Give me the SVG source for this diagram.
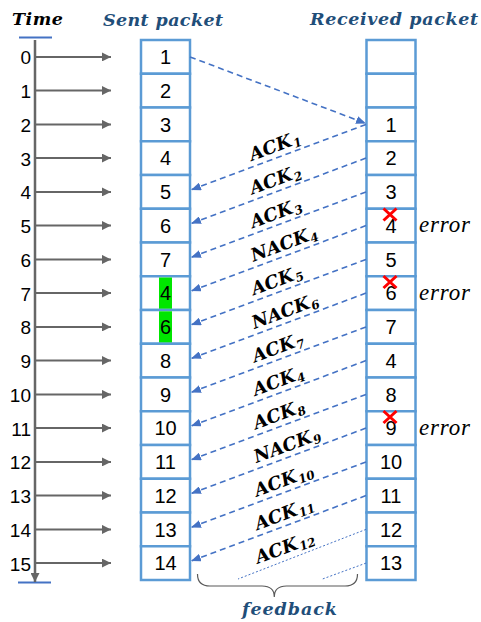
<svg xmlns="http://www.w3.org/2000/svg" width="481" height="622" viewBox="0 0 481 622">
  <style>
    .cell { fill: #ffffff; stroke: #5B9BD5; stroke-width: 2.5; }
    .num { font-family: "Liberation Sans", Arial, sans-serif; font-size: 20px; fill: #000; text-anchor: middle; }
    .tlabel { font-family: "Liberation Sans", Arial, sans-serif; font-size: 19px; fill: #000; text-anchor: end; }
    .head { font-family: "DejaVu Serif", "Liberation Serif", serif; font-weight: bold; font-style: italic; font-size: 17.5px; fill: #1F4E79; }
    .ack { font-family: "DejaVu Serif", "Liberation Serif", serif; font-weight: bold; font-style: italic; font-size: 18px; fill: #000; }
    .sub { font-size: 12px; }
    .err { font-family: "Liberation Serif", "DejaVu Serif", serif; font-style: italic; font-size: 23px; fill: #000; }
    .tick { stroke: #666666; stroke-width: 2; fill: none; }
    .link { stroke: #4472C4; stroke-width: 1.6; stroke-dasharray: 6 4; fill: none; }
    .thin { stroke: #4472C4; stroke-width: 1; stroke-dasharray: 2 2; fill: none; }
    .bar { stroke: #4472C4; stroke-width: 2.2; }
    .cross { stroke: #FF0000; stroke-width: 3; stroke-linecap: butt; }
  </style>
  <defs>
    <marker id="grayHead" markerUnits="userSpaceOnUse" markerWidth="9" markerHeight="9" refX="9" refY="4.5" orient="auto">
      <path d="M0,0 L9,4.5 L0,9 z" fill="#666666"/>
    </marker>
    <marker id="blueHead" markerUnits="userSpaceOnUse" markerWidth="10" markerHeight="8" refX="10" refY="4" orient="auto">
      <path d="M0,0 L10,4 L0,8 z" fill="#4472C4"/>
    </marker>
  </defs>

  <!-- headers -->
  <g id="headers">
    <text class="head" x="12" y="25" style="fill:#000" textLength="51" lengthAdjust="spacing">Time</text>
    <text class="head" x="103" y="26" textLength="120" lengthAdjust="spacing">Sent packet</text>
    <text class="head" x="310" y="25" textLength="168" lengthAdjust="spacing">Received packet</text>
  </g>

  <!-- time axis with step arrows -->
  <g id="time-axis">
    <line class="bar" x1="19" y1="37.5" x2="52" y2="37.5"/>
    <line class="bar" x1="18" y1="582.5" x2="51" y2="582.5"/>
    <line x1="35" y1="40" x2="35" y2="582" stroke="#666666" stroke-width="2.5" marker-end="url(#grayHead)"/>
    <g marker-end="url(#grayHead)">
      <line class="tick" x1="35" y1="56.9" x2="111" y2="56.9"/>
      <line class="tick" x1="35" y1="90.6" x2="111" y2="90.6"/>
      <line class="tick" x1="35" y1="124.4" x2="111" y2="124.4"/>
      <line class="tick" x1="35" y1="158.1" x2="111" y2="158.1"/>
      <line class="tick" x1="35" y1="191.9" x2="111" y2="191.9"/>
      <line class="tick" x1="35" y1="225.6" x2="111" y2="225.6"/>
      <line class="tick" x1="35" y1="259.4" x2="111" y2="259.4"/>
      <line class="tick" x1="35" y1="293.1" x2="111" y2="293.1"/>
      <line class="tick" x1="35" y1="326.9" x2="111" y2="326.9"/>
      <line class="tick" x1="35" y1="360.6" x2="111" y2="360.6"/>
      <line class="tick" x1="35" y1="394.4" x2="111" y2="394.4"/>
      <line class="tick" x1="35" y1="428.1" x2="111" y2="428.1"/>
      <line class="tick" x1="35" y1="461.9" x2="111" y2="461.9"/>
      <line class="tick" x1="35" y1="495.6" x2="111" y2="495.6"/>
      <line class="tick" x1="35" y1="529.4" x2="111" y2="529.4"/>
      <line class="tick" x1="35" y1="563.1" x2="111" y2="563.1"/>
    </g>
    <text class="tlabel" x="31" y="64.4">0</text>
    <text class="tlabel" x="31" y="98.1">1</text>
    <text class="tlabel" x="31" y="131.9">2</text>
    <text class="tlabel" x="31" y="165.6">3</text>
    <text class="tlabel" x="31" y="199.4">4</text>
    <text class="tlabel" x="31" y="233.1">5</text>
    <text class="tlabel" x="31" y="266.9">6</text>
    <text class="tlabel" x="31" y="300.6">7</text>
    <text class="tlabel" x="31" y="334.4">8</text>
    <text class="tlabel" x="31" y="368.1">9</text>
    <text class="tlabel" x="31" y="401.9">10</text>
    <text class="tlabel" x="31" y="435.6">11</text>
    <text class="tlabel" x="31" y="469.4">12</text>
    <text class="tlabel" x="31" y="503.1">13</text>
    <text class="tlabel" x="31" y="536.9">14</text>
    <text class="tlabel" x="31" y="570.6">15</text>
  </g>

  <!-- sender column -->
  <g id="sent-column">
    <g id="sent-0"><rect class="cell" x="141" y="40" width="49" height="33.75"/><text class="num" x="165.5" y="64.2">1</text></g>
    <g id="sent-1"><rect class="cell" x="141" y="73.75" width="49" height="33.75"/><text class="num" x="165.5" y="97.9">2</text></g>
    <g id="sent-2"><rect class="cell" x="141" y="107.5" width="49" height="33.75"/><text class="num" x="165.5" y="131.7">3</text></g>
    <g id="sent-3"><rect class="cell" x="141" y="141.25" width="49" height="33.75"/><text class="num" x="165.5" y="165.4">4</text></g>
    <g id="sent-4"><rect class="cell" x="141" y="175" width="49" height="33.75"/><text class="num" x="165.5" y="199.2">5</text></g>
    <g id="sent-5"><rect class="cell" x="141" y="208.75" width="49" height="33.75"/><text class="num" x="165.5" y="232.9">6</text></g>
    <g id="sent-6"><rect class="cell" x="141" y="242.5" width="49" height="33.75"/><text class="num" x="165.5" y="266.7">7</text></g>
    <g id="sent-7"><rect class="cell" x="141" y="276.25" width="49" height="33.75"/><rect x="159" y="277.5" width="13" height="31.3" fill="#00E600"/><text class="num" x="165.5" y="300.4">4</text></g>
    <g id="sent-8"><rect class="cell" x="141" y="310" width="49" height="33.75"/><rect x="159" y="311.3" width="13" height="31.3" fill="#00E600"/><text class="num" x="165.5" y="334.2">6</text></g>
    <g id="sent-9"><rect class="cell" x="141" y="343.75" width="49" height="33.75"/><text class="num" x="165.5" y="367.9">8</text></g>
    <g id="sent-10"><rect class="cell" x="141" y="377.5" width="49" height="33.75"/><text class="num" x="165.5" y="401.7">9</text></g>
    <g id="sent-11"><rect class="cell" x="141" y="411.25" width="49" height="33.75"/><text class="num" x="165.5" y="435.4">10</text></g>
    <g id="sent-12"><rect class="cell" x="141" y="445" width="49" height="33.75"/><text class="num" x="165.5" y="469.2">11</text></g>
    <g id="sent-13"><rect class="cell" x="141" y="478.75" width="49" height="33.75"/><text class="num" x="165.5" y="502.9">12</text></g>
    <g id="sent-14"><rect class="cell" x="141" y="512.5" width="49" height="33.75"/><text class="num" x="165.5" y="536.7">13</text></g>
    <g id="sent-15"><rect class="cell" x="141" y="546.25" width="49" height="33.75"/><text class="num" x="165.5" y="570.4">14</text></g>
  </g>

  <!-- receiver column -->
  <g id="received-column">
    <g id="recv-0"><rect class="cell" x="366.5" y="40" width="49" height="33.75"/></g>
    <g id="recv-1"><rect class="cell" x="366.5" y="73.75" width="49" height="33.75"/></g>
    <g id="recv-2"><rect class="cell" x="366.5" y="107.5" width="49" height="33.75"/><text class="num" x="391" y="131.7">1</text></g>
    <g id="recv-3"><rect class="cell" x="366.5" y="141.25" width="49" height="33.75"/><text class="num" x="391" y="165.4">2</text></g>
    <g id="recv-4"><rect class="cell" x="366.5" y="175" width="49" height="33.75"/><text class="num" x="391" y="199.2">3</text></g>
    <g id="recv-5"><rect class="cell" x="366.5" y="208.75" width="49" height="33.75"/><text class="num" x="391" y="232.9">4</text></g>
    <g id="recv-6"><rect class="cell" x="366.5" y="242.5" width="49" height="33.75"/><text class="num" x="391" y="266.7">5</text></g>
    <g id="recv-7"><rect class="cell" x="366.5" y="276.25" width="49" height="33.75"/><text class="num" x="391" y="300.4">6</text></g>
    <g id="recv-8"><rect class="cell" x="366.5" y="310" width="49" height="33.75"/><text class="num" x="391" y="334.2">7</text></g>
    <g id="recv-9"><rect class="cell" x="366.5" y="343.75" width="49" height="33.75"/><text class="num" x="391" y="367.9">4</text></g>
    <g id="recv-10"><rect class="cell" x="366.5" y="377.5" width="49" height="33.75"/><text class="num" x="391" y="401.7">8</text></g>
    <g id="recv-11"><rect class="cell" x="366.5" y="411.25" width="49" height="33.75"/><text class="num" x="391" y="435.4">9</text></g>
    <g id="recv-12"><rect class="cell" x="366.5" y="445" width="49" height="33.75"/><text class="num" x="391" y="469.2">10</text></g>
    <g id="recv-13"><rect class="cell" x="366.5" y="478.75" width="49" height="33.75"/><text class="num" x="391" y="502.9">11</text></g>
    <g id="recv-14"><rect class="cell" x="366.5" y="512.5" width="49" height="33.75"/><text class="num" x="391" y="536.7">12</text></g>
    <g id="recv-15"><rect class="cell" x="366.5" y="546.25" width="49" height="33.75"/><text class="num" x="391" y="570.4">13</text></g>
  </g>

  <!-- corrupted packets -->
  <g id="errors">
    <path class="cross" d="M383.5,208.5 L396.5,220.5 M396.5,208.5 L383.5,220.5"/>
    <path class="cross" d="M383.5,276 L396.5,288 M396.5,276 L383.5,288"/>
    <path class="cross" d="M383.5,411 L396.5,423 M396.5,411 L383.5,423"/>
    <text class="err" x="419" y="232" textLength="51" lengthAdjust="spacing">error</text>
    <text class="err" x="419" y="299.5" textLength="51" lengthAdjust="spacing">error</text>
    <text class="err" x="419" y="434.5" textLength="51" lengthAdjust="spacing">error</text>
  </g>

  <!-- packet and feedback connectors -->
  <g id="connectors">
    <line class="link" x1="190" y1="56.9" x2="366" y2="123.5" marker-end="url(#blueHead)"/>
    <g marker-end="url(#blueHead)">
      <line class="link" x1="366" y1="124.4" x2="191" y2="189.9"/>
      <line class="link" x1="366" y1="158.1" x2="191" y2="223.6"/>
      <line class="link" x1="366" y1="191.9" x2="191" y2="257.4"/>
      <line class="link" x1="366" y1="225.6" x2="191" y2="291.1"/>
      <line class="link" x1="366" y1="259.4" x2="191" y2="324.9"/>
      <line class="link" x1="366" y1="293.1" x2="191" y2="358.6"/>
      <line class="link" x1="366" y1="326.9" x2="191" y2="392.4"/>
      <line class="link" x1="366" y1="360.6" x2="191" y2="426.1"/>
      <line class="link" x1="366" y1="394.4" x2="191" y2="459.9"/>
      <line class="link" x1="366" y1="428.1" x2="191" y2="493.6"/>
      <line class="link" x1="366" y1="461.9" x2="191" y2="527.4"/>
      <line class="link" x1="366" y1="495.6" x2="191" y2="561.1"/>
    </g>
    <line class="thin" x1="366" y1="529.4" x2="238" y2="579"/>
    <line class="thin" x1="366" y1="563.1" x2="322.5" y2="579"/>
  </g>

  <!-- feedback labels -->
  <g id="feedback-labels">
    <text class="ack" transform="translate(252,161) rotate(-20.5)">ACK<tspan class="sub" dx="1" dy="3">1</tspan></text>
    <text class="ack" transform="translate(252.5,194.6) rotate(-20.5)">ACK<tspan class="sub" dx="1" dy="3">2</tspan></text>
    <text class="ack" transform="translate(253,228.2) rotate(-20.5)">ACK<tspan class="sub" dx="1" dy="3">3</tspan></text>
    <text class="ack" transform="translate(253.5,261.7) rotate(-20.5)">NACK<tspan class="sub" dx="1" dy="3">4</tspan></text>
    <text class="ack" transform="translate(254,295.3) rotate(-20.5)">ACK<tspan class="sub" dx="1" dy="3">5</tspan></text>
    <text class="ack" transform="translate(254.5,328.9) rotate(-20.5)">NACK<tspan class="sub" dx="1" dy="3">6</tspan></text>
    <text class="ack" transform="translate(255,362.4) rotate(-20.5)">ACK<tspan class="sub" dx="1" dy="3">7</tspan></text>
    <text class="ack" transform="translate(255.5,396) rotate(-20.5)">ACK<tspan class="sub" dx="1" dy="3">4</tspan></text>
    <text class="ack" transform="translate(256,429.5) rotate(-20.5)">ACK<tspan class="sub" dx="1" dy="3">8</tspan></text>
    <text class="ack" transform="translate(256.5,463.1) rotate(-20.5)">NACK<tspan class="sub" dx="1" dy="3">9</tspan></text>
    <text class="ack" transform="translate(257,496.7) rotate(-20.5)">ACK<tspan class="sub" dx="1" dy="3">10</tspan></text>
    <text class="ack" transform="translate(257.5,530.2) rotate(-20.5)">ACK<tspan class="sub" dx="1" dy="3">11</tspan></text>
    <text class="ack" transform="translate(258,563.8) rotate(-20.5)">ACK<tspan class="sub" dx="1" dy="3">12</tspan></text>
  </g>

  <!-- feedback brace -->
  <g id="feedback">
    <path d="M197.5,574 Q197.5,586 210,586 L262,586 Q274.3,586 274.3,597 Q274.3,586 286.5,586 L345,586 Q357.5,586 357.5,574" fill="none" stroke="#595959" stroke-width="1.2"/>
    <text class="head" x="242" y="615" textLength="95" lengthAdjust="spacing">feedback</text>
  </g>
</svg>
